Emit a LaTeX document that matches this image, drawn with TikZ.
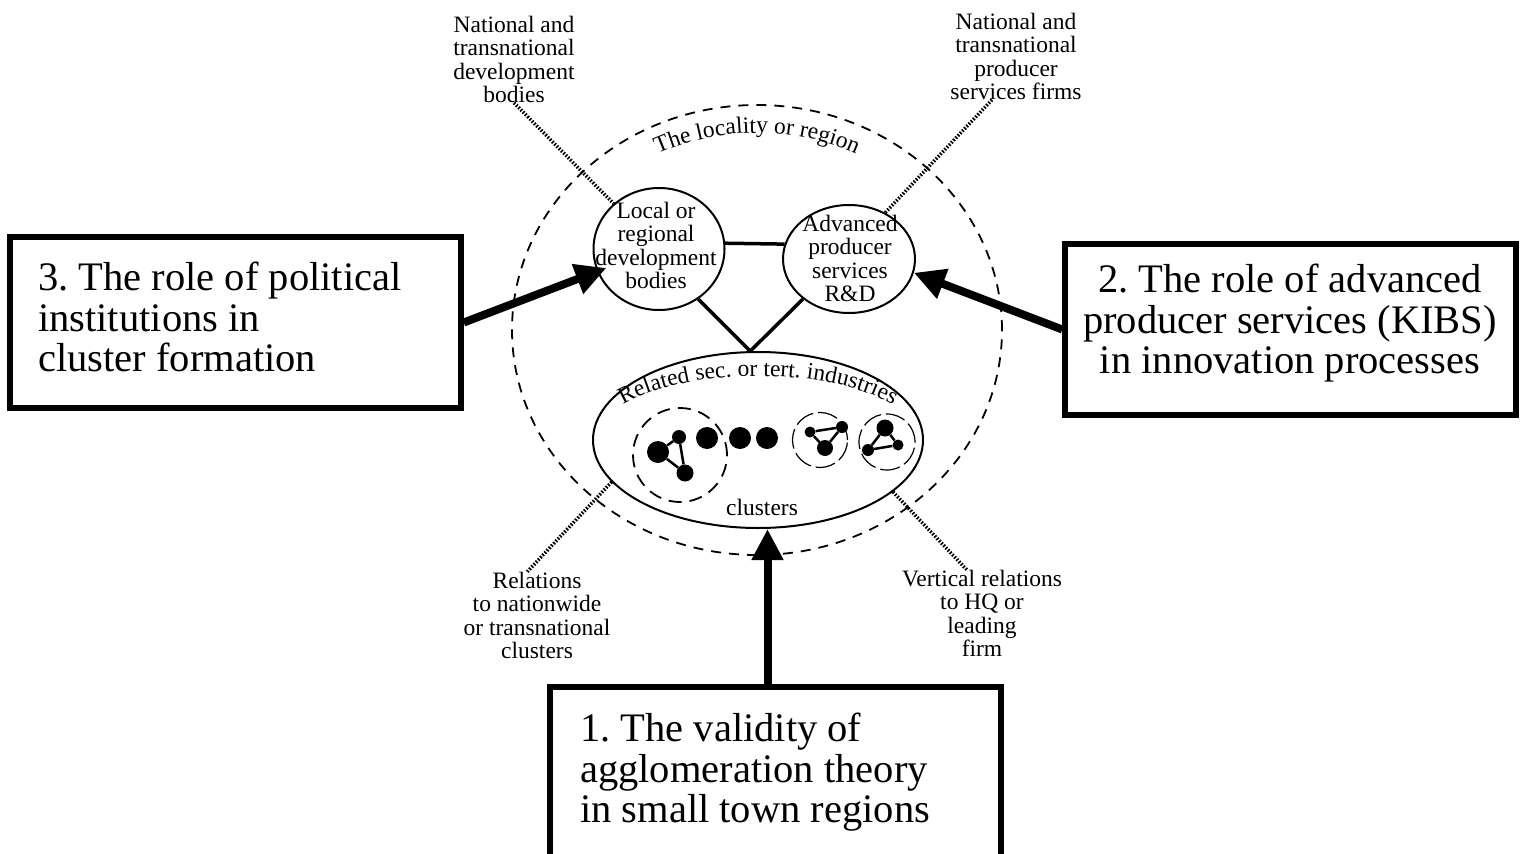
\documentclass[tikz,border=0pt]{standalone}
\usepackage{fontspec}
\setmainfont{Liberation Serif}
\usetikzlibrary{shapes.geometric,arrows.meta,decorations.text}
\frenchspacing
\newcommand{\smallfont}{\fontsize{23.5}{23.3}\selectfont}
\newcommand{\bigfont}{\fontsize{40.5}{40.5}\selectfont}
\tikzstyle{box}=[draw,line width=5.5pt,fill=white,minimum width=451pt,minimum height=171pt,inner sep=0pt]
\tikzstyle{oval}=[draw,ellipse,line width=2pt,inner sep=0pt]
\tikzstyle{smalltext}=[font=\smallfont,align=center,inner sep=0pt]
\tikzstyle{bigtext}=[font=\bigfont,inner sep=0pt]
\tikzstyle{bigarrow}=[draw,line width=8pt,-{Triangle[length=31pt,width=30pt]}]
\tikzstyle{dotline}=[draw,line width=3.5pt,dash pattern=on 1.6pt off 1.6pt]
\tikzstyle{link}=[draw,line width=3.5pt]
\tikzstyle{firm}=[circle,fill=black,inner sep=0pt]
\tikzstyle{tie}=[draw,line width=2.5pt]
\tikzstyle{ring}=[draw,circle,inner sep=0pt]

\begin{document}
\begin{tikzpicture}[x=1pt,y=1pt]
  \useasboundingbox (0,0) rectangle (1527,-854);
  \clip (0,0) rectangle (1527,-854);

  % the region
  \node[oval,line width=1.8pt,dash pattern=on 10pt off 8pt,minimum width=490pt,minimum height=450pt] (region) at (757,-330) {};
  \path[decorate,decoration={text along path,text={|\smallfont|The locality or region},text align=center}]
    (757,-330) ++(155:222 and 197) arc[start angle=155,end angle=25,x radius=222,y radius=197];

  \node[oval,minimum width=131pt,minimum height=122pt] (lrd) at (659,-249) {};
  \node[oval,minimum width=132pt,minimum height=108pt] (aps) at (849,-259) {};
  \node[oval,minimum width=330pt,minimum height=176pt] (rel) at (758,-440) {};
  \node[smalltext,anchor=north] (lrdtext) at (656,-202) {Local or\\regional\\development\\bodies};
  \node[smalltext,anchor=north] (apstext) at (850,-215) {Advanced\\producer\\services\\R\&D};
  \path[decorate,decoration={text along path,text={|\smallfont|Related sec. or tert. industries},text align=center}]
    (758,-442) ++(172:163 and 66) arc[start angle=172,end angle=8,x radius=163,y radius=66];
  \node[smalltext,anchor=base] (clusters) at (762,-515) {clusters};

  \draw[link] (lrd.5) -- (aps.167);
  \draw[link] (lrd.308) -- (rel.95);
  \draw[link] (aps.221) -- (rel.95);

  % clusters
  \node[ring,minimum size=94pt,line width=1.8pt,dash pattern=on 13pt off 8pt] (cl1) at (680,-455) {};
  \node[firm,minimum size=22pt] (f1) at (658,-452) {};
  \node[firm,minimum size=14pt] (f2) at (679,-437) {};
  \node[firm,minimum size=17pt] (f3) at (685,-473) {};
  \draw[tie] (f1) -- (f2) -- (f3) -- (f1);
  \node[firm,minimum size=22pt] (d1) at (707,-438) {};
  \node[firm,minimum size=22pt] (d2) at (740,-438) {};
  \node[firm,minimum size=22pt] (d3) at (767,-438) {};
  \node[ring,minimum size=55pt,line width=1.2pt,dash pattern=on 20pt off 5pt] (cl2) at (820,-440) {};
  \node[firm,minimum size=11pt] (g1) at (810,-432) {};
  \node[firm,minimum size=12pt] (g2) at (842,-427) {};
  \node[firm,minimum size=16pt] (g3) at (825,-448) {};
  \draw[tie] (g1) -- (g2) -- (g3) -- (g1);
  \node[ring,minimum size=56pt,line width=1.2pt,dash pattern=on 20pt off 5pt] (cl3) at (887,-442) {};
  \node[firm,minimum size=17pt] (h1) at (885,-428) {};
  \node[firm,minimum size=12pt] (h2) at (868,-450) {};
  \node[firm,minimum size=11pt] (h3) at (898,-445) {};
  \draw[tie] (h1) -- (h2) -- (h3) -- (h1);

  % outside relations
  \node[smalltext,anchor=north] (tl) at (514,-16) {National and\\transnational\\development\\bodies};
  \node[smalltext,anchor=north] (tr) at (1016,-13) {National and\\transnational\\producer\\services firms};
  \node[smalltext,anchor=north] (bl) at (537,-572) {Relations\\to nationwide\\or transnational\\clusters};
  \node[smalltext,anchor=north] (br) at (982,-570) {Vertical relations\\to HQ or\\leading\\firm};
  \draw[dotline] (tl.south) -- (lrd.135);
  \draw[dotline] ([xshift=-24pt]tr.south) -- (aps.52);
  \draw[dotline] (rel.196) -- ([xshift=-10pt]bl.north);
  \draw[dotline] (rel.339) -- ([xshift=-15pt]br.north);

  % research questions
  \node[box] (inst) at (235.5,-322.5) {};
  \node[box] (kibs) at (1290.5,-329.5) {};
  \node[box,minimum height=200pt] (agglo) at (775.5,-787) {};
  \node[bigtext,align=left,anchor=north west] (insttext) at (38,-262) {3. The role of political\\institutions in\\cluster formation};
  \node[bigtext,align=center,anchor=north] (kibstext) at (1290,-264) {2. The role of advanced\\producer services (KIBS)\\in innovation processes};
  \node[bigtext,align=left,anchor=north west] (agglotext) at (580,-713) {1. The validity of\\agglomeration theory\\in small town regions};
  \draw[bigarrow,shorten >=-10pt] (inst.east) -- (lrd.200);
  \draw[bigarrow] (kibs.west) -- (aps.348);
  \draw[bigarrow] ([xshift=-8pt]agglo.north) -- ([xshift=-8pt]agglo.north |- rel.south);
\end{tikzpicture}
\end{document}
